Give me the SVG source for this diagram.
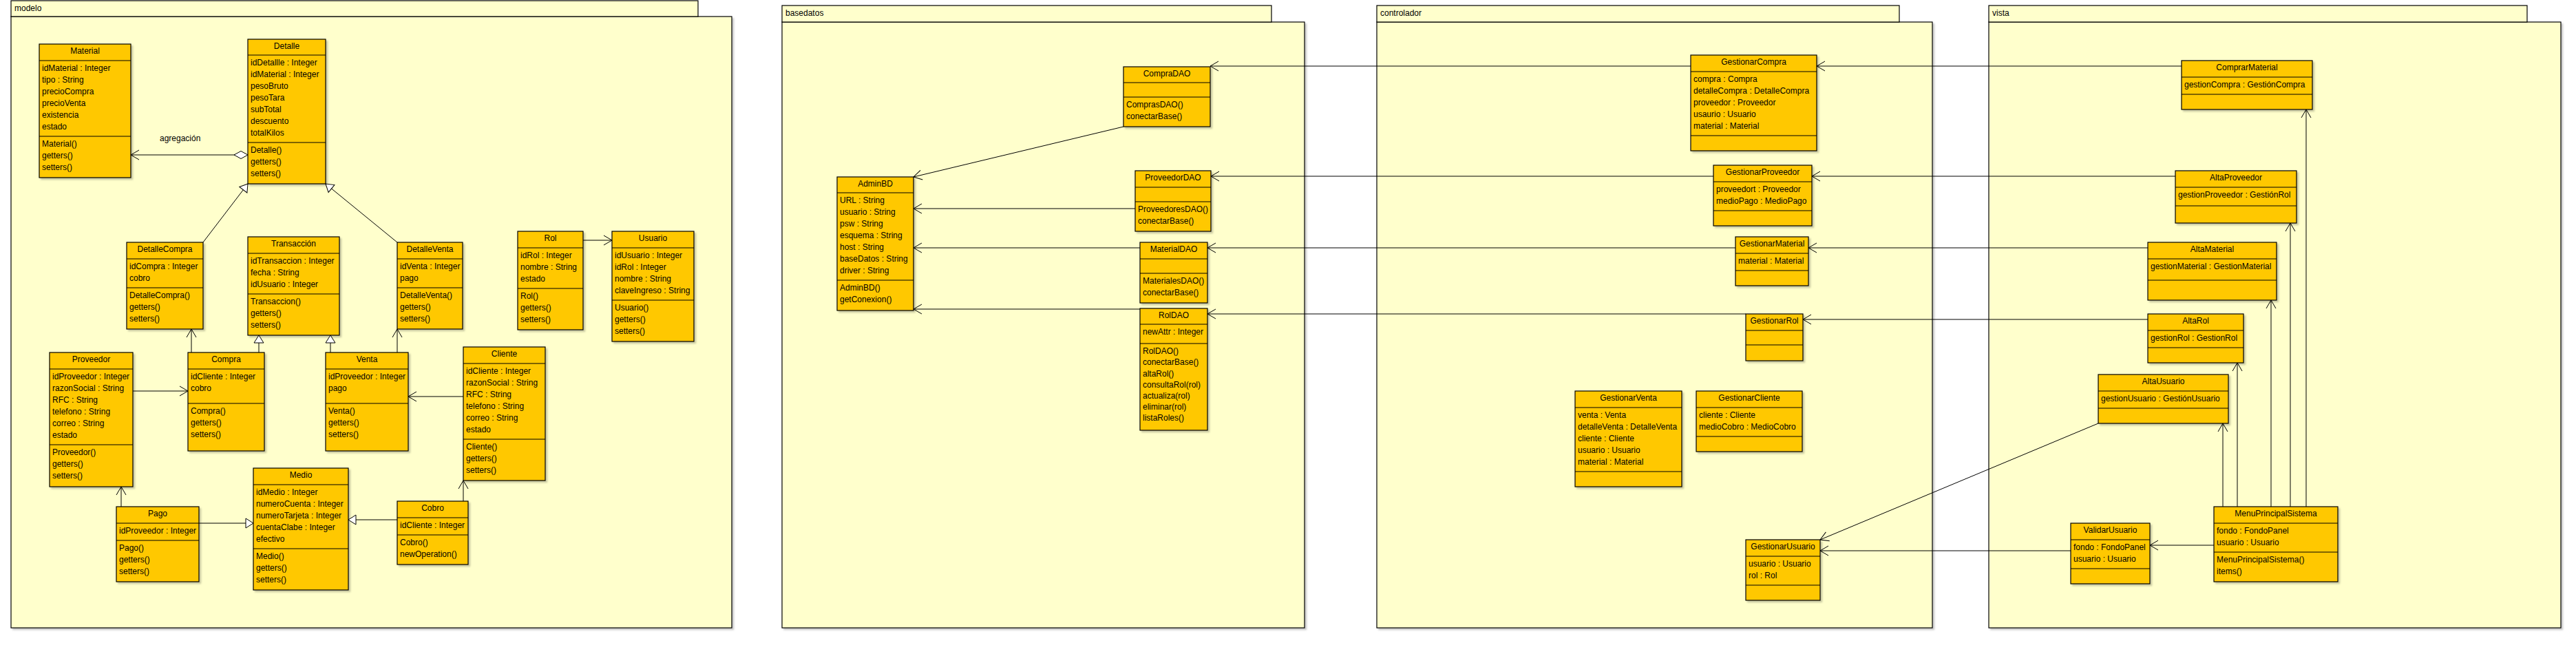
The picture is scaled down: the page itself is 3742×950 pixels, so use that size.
<svg xmlns="http://www.w3.org/2000/svg" width="3742" height="950" viewBox="0 0 3742 950">
<style>
.pkg{fill:#FFFFCC;stroke:#000;stroke-width:1.2}
.cls{fill:#FFC800;stroke:#000;stroke-width:1.2}
.sep{stroke:#000;stroke-width:1.2}
.ds{filter:url(#ds)}
text{font-family:"Liberation Sans",Arial,sans-serif;font-size:12px;fill:#000}
.t{text-anchor:middle}
#connectors line{stroke:#000;stroke-width:1;fill:none}
.op{marker-end:url(#open)}
.gen{marker-end:url(#tri)}
</style>
<defs>
<filter id="ds" x="-5%" y="-5%" width="115%" height="115%"><feDropShadow dx="2.5" dy="2.5" stdDeviation="1" flood-color="#000" flood-opacity="0.22"/></filter>
<marker id="open" viewBox="-14 -9 16 18" refX="0" refY="0" markerWidth="16" markerHeight="18" markerUnits="userSpaceOnUse" orient="auto"><path d="M-12,-7 L0,0 L-12,7" fill="none" stroke="#000" stroke-width="1"/></marker>
<marker id="tri" viewBox="-13 -9 15 18" refX="0" refY="0" markerWidth="15" markerHeight="18" markerUnits="userSpaceOnUse" orient="auto"><path d="M-11,-7 L0,0 L-11,7 Z" fill="#fff" stroke="#000" stroke-width="1"/></marker>
<marker id="dia" viewBox="-1 -7 23 14" refX="0" refY="0" markerWidth="23" markerHeight="14" markerUnits="userSpaceOnUse" orient="auto"><path d="M0,0 L10,-5.5 L20,0 L10,5.5 Z" fill="#fff" stroke="#000" stroke-width="1"/></marker>
</defs>
<rect x="0" y="0" width="3742" height="950" fill="#fff"/>

<g id="pkg-modelo">
<rect class="pkg ds" x="16" y="24" width="1047" height="888"/>
<rect class="pkg" x="16" y="1" width="998" height="23"/>
<text x="21" y="16">modelo</text>
</g>
<g id="pkg-basedatos">
<rect class="pkg ds" x="1136" y="32" width="759" height="880"/>
<rect class="pkg" x="1136" y="8" width="711" height="24"/>
<text x="1141" y="23">basedatos</text>
</g>
<g id="pkg-controlador">
<rect class="pkg ds" x="2000" y="32" width="807" height="880"/>
<rect class="pkg" x="2000" y="8" width="759" height="24"/>
<text x="2005" y="23">controlador</text>
</g>
<g id="pkg-vista">
<rect class="pkg ds" x="2889" y="32" width="831" height="880"/>
<rect class="pkg" x="2889" y="8" width="782" height="24"/>
<text x="2894" y="23">vista</text>
</g>

<!-- modelo -->
<g id="Material">
<rect class="cls ds" x="57" y="64" width="133" height="194"/>
<line class="sep" x1="57" y1="88" x2="190" y2="88"/><line class="sep" x1="57" y1="198" x2="190" y2="198"/>
<text class="t" x="123.5" y="78">Material</text>
<text x="61" y="103">idMaterial : Integer</text><text x="61" y="120">tipo : String</text><text x="61" y="137">precioCompra</text><text x="61" y="154">precioVenta</text><text x="61" y="171">existencia</text><text x="61" y="188">estado</text>
<text x="61" y="213">Material()</text><text x="61" y="230">getters()</text><text x="61" y="247">setters()</text>
</g>
<g id="Detalle">
<rect class="cls ds" x="360" y="57" width="113" height="210"/>
<line class="sep" x1="360" y1="80" x2="473" y2="80"/><line class="sep" x1="360" y1="207" x2="473" y2="207"/>
<text class="t" x="416.5" y="71">Detalle</text>
<text x="364" y="95">idDetallle : Integer</text><text x="364" y="112">idMaterial : Integer</text><text x="364" y="129">pesoBruto</text><text x="364" y="146">pesoTara</text><text x="364" y="163">subTotal</text><text x="364" y="180">descuento</text><text x="364" y="197">totalKilos</text>
<text x="364" y="222">Detalle()</text><text x="364" y="239">getters()</text><text x="364" y="256">setters()</text>
</g>
<g id="DetalleCompra">
<rect class="cls ds" x="184" y="352" width="111" height="126"/>
<line class="sep" x1="184" y1="376" x2="295" y2="376"/><line class="sep" x1="184" y1="418" x2="295" y2="418"/>
<text class="t" x="239.5" y="366">DetalleCompra</text>
<text x="188" y="391">idCompra : Integer</text><text x="188" y="408">cobro</text>
<text x="188" y="433">DetalleCompra()</text><text x="188" y="450">getters()</text><text x="188" y="467">setters()</text>
</g>
<g id="Transaccion">
<rect class="cls ds" x="360" y="344" width="133" height="143"/>
<line class="sep" x1="360" y1="368" x2="493" y2="368"/><line class="sep" x1="360" y1="427" x2="493" y2="427"/>
<text class="t" x="426.5" y="358">Transacción</text>
<text x="364" y="383">idTransaccion : Integer</text><text x="364" y="400">fecha : String</text><text x="364" y="417">idUsuario : Integer</text>
<text x="364" y="442">Transaccion()</text><text x="364" y="459">getters()</text><text x="364" y="476">setters()</text>
</g>
<g id="DetalleVenta">
<rect class="cls ds" x="577" y="352" width="95" height="126"/>
<line class="sep" x1="577" y1="376" x2="672" y2="376"/><line class="sep" x1="577" y1="418" x2="672" y2="418"/>
<text class="t" x="624.5" y="366">DetalleVenta</text>
<text x="581" y="391">idVenta : Integer</text><text x="581" y="408">pago</text>
<text x="581" y="433">DetalleVenta()</text><text x="581" y="450">getters()</text><text x="581" y="467">setters()</text>
</g>
<g id="Rol">
<rect class="cls ds" x="752" y="336" width="95" height="143"/>
<line class="sep" x1="752" y1="360" x2="847" y2="360"/><line class="sep" x1="752" y1="419" x2="847" y2="419"/>
<text class="t" x="799.5" y="350">Rol</text>
<text x="756" y="375">idRol : Integer</text><text x="756" y="392">nombre : String</text><text x="756" y="409">estado</text>
<text x="756" y="434">Rol()</text><text x="756" y="451">getters()</text><text x="756" y="468">setters()</text>
</g>
<g id="Usuario">
<rect class="cls ds" x="889" y="336" width="119" height="160"/>
<line class="sep" x1="889" y1="360" x2="1008" y2="360"/><line class="sep" x1="889" y1="436" x2="1008" y2="436"/>
<text class="t" x="948.5" y="350">Usuario</text>
<text x="893" y="375">idUsuario : Integer</text><text x="893" y="392">idRol : Integer</text><text x="893" y="409">nombre : String</text><text x="893" y="426">claveIngreso : String</text>
<text x="893" y="451">Usuario()</text><text x="893" y="468">getters()</text><text x="893" y="485">setters()</text>
</g>
<g id="Proveedor">
<rect class="cls ds" x="72" y="512" width="121" height="195"/>
<line class="sep" x1="72" y1="536" x2="193" y2="536"/><line class="sep" x1="72" y1="646" x2="193" y2="646"/>
<text class="t" x="132.5" y="526">Proveedor</text>
<text x="76" y="551">idProveedor : Integer</text><text x="76" y="568">razonSocial : String</text><text x="76" y="585">RFC : String</text><text x="76" y="602">telefono : String</text><text x="76" y="619">correo : String</text><text x="76" y="636">estado</text>
<text x="76" y="661">Proveedor()</text><text x="76" y="678">getters()</text><text x="76" y="695">setters()</text>
</g>
<g id="Compra">
<rect class="cls ds" x="273" y="512" width="111" height="143"/>
<line class="sep" x1="273" y1="536" x2="384" y2="536"/><line class="sep" x1="273" y1="586" x2="384" y2="586"/>
<text class="t" x="328.5" y="526">Compra</text>
<text x="277" y="551">idCliente : Integer</text><text x="277" y="568">cobro</text>
<text x="277" y="601">Compra()</text><text x="277" y="618">getters()</text><text x="277" y="635">setters()</text>
</g>
<g id="Venta">
<rect class="cls ds" x="473" y="512" width="120" height="143"/>
<line class="sep" x1="473" y1="536" x2="593" y2="536"/><line class="sep" x1="473" y1="586" x2="593" y2="586"/>
<text class="t" x="533" y="526">Venta</text>
<text x="477" y="551">idProveedor : Integer</text><text x="477" y="568">pago</text>
<text x="477" y="601">Venta()</text><text x="477" y="618">getters()</text><text x="477" y="635">setters()</text>
</g>
<g id="Cliente">
<rect class="cls ds" x="673" y="504" width="119" height="194"/>
<line class="sep" x1="673" y1="528" x2="792" y2="528"/><line class="sep" x1="673" y1="638" x2="792" y2="638"/>
<text class="t" x="732.5" y="518">Cliente</text>
<text x="677" y="543">idCliente : Integer</text><text x="677" y="560">razonSocial : String</text><text x="677" y="577">RFC : String</text><text x="677" y="594">telefono : String</text><text x="677" y="611">correo : String</text><text x="677" y="628">estado</text>
<text x="677" y="653">Cliente()</text><text x="677" y="670">getters()</text><text x="677" y="687">setters()</text>
</g>
<g id="Pago">
<rect class="cls ds" x="169" y="736" width="120" height="109"/>
<line class="sep" x1="169" y1="760" x2="289" y2="760"/><line class="sep" x1="169" y1="785" x2="289" y2="785"/>
<text class="t" x="229" y="750">Pago</text>
<text x="173" y="775">idProveedor : Integer</text>
<text x="173" y="800">Pago()</text><text x="173" y="817">getters()</text><text x="173" y="834">setters()</text>
</g>
<g id="Medio">
<rect class="cls ds" x="368" y="680" width="138" height="177"/>
<line class="sep" x1="368" y1="704" x2="506" y2="704"/><line class="sep" x1="368" y1="797" x2="506" y2="797"/>
<text class="t" x="437" y="694">Medio</text>
<text x="372" y="719">idMedio : Integer</text><text x="372" y="736">numeroCuenta : Integer</text><text x="372" y="753">numeroTarjeta : Integer</text><text x="372" y="770">cuentaClabe : Integer</text><text x="372" y="787">efectivo</text>
<text x="372" y="812">Medio()</text><text x="372" y="829">getters()</text><text x="372" y="846">setters()</text>
</g>
<g id="Cobro">
<rect class="cls ds" x="577" y="728" width="103" height="92"/>
<line class="sep" x1="577" y1="752" x2="680" y2="752"/><line class="sep" x1="577" y1="777" x2="680" y2="777"/>
<text class="t" x="628.5" y="742">Cobro</text>
<text x="581" y="767">idCliente : Integer</text>
<text x="581" y="792">Cobro()</text><text x="581" y="809">newOperation()</text>
</g>

<!-- basedatos -->
<g id="AdminBD">
<rect class="cls ds" x="1216" y="257" width="111" height="194"/>
<line class="sep" x1="1216" y1="280" x2="1327" y2="280"/><line class="sep" x1="1216" y1="407" x2="1327" y2="407"/>
<text class="t" x="1271.5" y="271">AdminBD</text>
<text x="1220" y="295">URL : String</text><text x="1220" y="312">usuario : String</text><text x="1220" y="329">psw : String</text><text x="1220" y="346">esquema : String</text><text x="1220" y="363">host : String</text><text x="1220" y="380">baseDatos : String</text><text x="1220" y="397">driver : String</text>
<text x="1220" y="422">AdminBD()</text><text x="1220" y="439">getConexion()</text>
</g>
<g id="CompraDAO">
<rect class="cls ds" x="1632" y="97" width="126" height="87"/>
<line class="sep" x1="1632" y1="120" x2="1758" y2="120"/><line class="sep" x1="1632" y1="141" x2="1758" y2="141"/>
<text class="t" x="1695" y="111">CompraDAO</text>
<text x="1636" y="156">ComprasDAO()</text><text x="1636" y="173">conectarBase()</text>
</g>
<g id="ProveedorDAO">
<rect class="cls ds" x="1649" y="248" width="110" height="88"/>
<line class="sep" x1="1649" y1="272" x2="1759" y2="272"/><line class="sep" x1="1649" y1="293" x2="1759" y2="293"/>
<text class="t" x="1704" y="262">ProveedorDAO</text>
<text x="1653" y="308">ProveedoresDAO()</text><text x="1653" y="325">conectarBase()</text>
</g>
<g id="MaterialDAO">
<rect class="cls ds" x="1656" y="352" width="98" height="88"/>
<line class="sep" x1="1656" y1="376" x2="1754" y2="376"/><line class="sep" x1="1656" y1="397" x2="1754" y2="397"/>
<text class="t" x="1705" y="366">MaterialDAO</text>
<text x="1660" y="412">MaterialesDAO()</text><text x="1660" y="429">conectarBase()</text>
</g>
<g id="RolDAO">
<rect class="cls ds" x="1656" y="448" width="98" height="177"/>
<line class="sep" x1="1656" y1="471" x2="1754" y2="471"/><line class="sep" x1="1656" y1="499" x2="1754" y2="499"/>
<text class="t" x="1705" y="462">RolDAO</text>
<text x="1660" y="486">newAttr : Integer</text>
<text x="1660" y="514">RolDAO()</text><text x="1660" y="530">conectarBase()</text><text x="1660" y="547">altaRol()</text><text x="1660" y="563">consultaRol(rol)</text><text x="1660" y="579">actualiza(rol)</text><text x="1660" y="595">eliminar(rol)</text><text x="1660" y="611">listaRoles()</text>
</g>

<!-- controlador -->
<g id="GestionarCompra">
<rect class="cls ds" x="2456" y="80" width="183" height="139"/>
<line class="sep" x1="2456" y1="104" x2="2639" y2="104"/><line class="sep" x1="2456" y1="197" x2="2639" y2="197"/>
<text class="t" x="2547.5" y="94">GestionarCompra</text>
<text x="2460" y="119">compra : Compra</text><text x="2460" y="136">detalleCompra : DetalleCompra</text><text x="2460" y="153">proveedor : Proveedor</text><text x="2460" y="170">usaurio : Usuario</text><text x="2460" y="187">material : Material</text>
</g>
<g id="GestionarProveedor">
<rect class="cls ds" x="2489" y="240" width="143" height="88"/>
<line class="sep" x1="2489" y1="264" x2="2632" y2="264"/><line class="sep" x1="2489" y1="306" x2="2632" y2="306"/>
<text class="t" x="2560.5" y="254">GestionarProveedor</text>
<text x="2493" y="279">proveedort : Proveedor</text><text x="2493" y="296">medioPago : MedioPago</text>
</g>
<g id="GestionarMaterial">
<rect class="cls ds" x="2521" y="344" width="106" height="71"/>
<line class="sep" x1="2521" y1="368" x2="2627" y2="368"/><line class="sep" x1="2521" y1="393" x2="2627" y2="393"/>
<text class="t" x="2574" y="358">GestionarMaterial</text>
<text x="2525" y="383">material : Material</text>
</g>
<g id="GestionarRol">
<rect class="cls ds" x="2536" y="456" width="83" height="68"/>
<line class="sep" x1="2536" y1="480" x2="2619" y2="480"/><line class="sep" x1="2536" y1="501" x2="2619" y2="501"/>
<text class="t" x="2577.5" y="470">GestionarRol</text>
</g>
<g id="GestionarVenta">
<rect class="cls ds" x="2288" y="568" width="155" height="139"/>
<line class="sep" x1="2288" y1="592" x2="2443" y2="592"/><line class="sep" x1="2288" y1="685" x2="2443" y2="685"/>
<text class="t" x="2365.5" y="582">GestionarVenta</text>
<text x="2292" y="607">venta : Venta</text><text x="2292" y="624">detalleVenta : DetalleVenta</text><text x="2292" y="641">cliente : Cliente</text><text x="2292" y="658">usuario : Usuario</text><text x="2292" y="675">material : Material</text>
</g>
<g id="GestionarCliente">
<rect class="cls ds" x="2464" y="568" width="154" height="88"/>
<line class="sep" x1="2464" y1="592" x2="2618" y2="592"/><line class="sep" x1="2464" y1="634" x2="2618" y2="634"/>
<text class="t" x="2541" y="582">GestionarCliente</text>
<text x="2468" y="607">cliente : Cliente</text><text x="2468" y="624">medioCobro : MedioCobro</text>
</g>
<g id="GestionarUsuario">
<rect class="cls ds" x="2536" y="784" width="108" height="88"/>
<line class="sep" x1="2536" y1="808" x2="2644" y2="808"/><line class="sep" x1="2536" y1="850" x2="2644" y2="850"/>
<text class="t" x="2590" y="798">GestionarUsuario</text>
<text x="2540" y="823">usuario : Usuario</text><text x="2540" y="840">rol : Rol</text>
</g>

<!-- vista -->
<g id="ComprarMaterial">
<rect class="cls ds" x="3169" y="88" width="190" height="71"/>
<line class="sep" x1="3169" y1="112" x2="3359" y2="112"/><line class="sep" x1="3169" y1="137" x2="3359" y2="137"/>
<text class="t" x="3264" y="102">ComprarMaterial</text>
<text x="3173" y="127">gestionCompra : GestiónCompra</text>
</g>
<g id="AltaProveedor">
<rect class="cls ds" x="3160" y="248" width="176" height="76"/>
<line class="sep" x1="3160" y1="272" x2="3336" y2="272"/><line class="sep" x1="3160" y1="299" x2="3336" y2="299"/>
<text class="t" x="3248" y="262">AltaProveedor</text>
<text x="3164" y="287">gestionProveedor : GestiónRol</text>
</g>
<g id="AltaMaterial">
<rect class="cls ds" x="3120" y="352" width="187" height="84"/>
<line class="sep" x1="3120" y1="376" x2="3307" y2="376"/><line class="sep" x1="3120" y1="407" x2="3307" y2="407"/>
<text class="t" x="3213.5" y="366">AltaMaterial</text>
<text x="3124" y="391">gestionMaterial : GestionMaterial</text>
</g>
<g id="AltaRol">
<rect class="cls ds" x="3120" y="456" width="139" height="71"/>
<line class="sep" x1="3120" y1="480" x2="3259" y2="480"/><line class="sep" x1="3120" y1="505" x2="3259" y2="505"/>
<text class="t" x="3189.5" y="470">AltaRol</text>
<text x="3124" y="495">gestionRol : GestionRol</text>
</g>
<g id="AltaUsuario">
<rect class="cls ds" x="3048" y="544" width="189" height="71"/>
<line class="sep" x1="3048" y1="568" x2="3237" y2="568"/><line class="sep" x1="3048" y1="593" x2="3237" y2="593"/>
<text class="t" x="3142.5" y="558">AltaUsuario</text>
<text x="3052" y="583">gestionUsuario : GestiónUsuario</text>
</g>
<g id="MenuPrincipalSistema">
<rect class="cls ds" x="3216" y="736" width="180" height="109"/>
<line class="sep" x1="3216" y1="760" x2="3396" y2="760"/><line class="sep" x1="3216" y1="802" x2="3396" y2="802"/>
<text class="t" x="3306" y="750">MenuPrincipalSistema</text>
<text x="3220" y="775">fondo : FondoPanel</text><text x="3220" y="792">usuario : Usuario</text>
<text x="3220" y="817">MenuPrincipalSistema()</text><text x="3220" y="834">items()</text>
</g>
<g id="ValidarUsuario">
<rect class="cls ds" x="3008" y="760" width="115" height="88"/>
<line class="sep" x1="3008" y1="784" x2="3123" y2="784"/><line class="sep" x1="3008" y1="826" x2="3123" y2="826"/>
<text class="t" x="3065.5" y="774">ValidarUsuario</text>
<text x="3012" y="799">fondo : FondoPanel</text><text x="3012" y="816">usuario : Usuario</text>
</g>

<g id="connectors">
<line x1="360" y1="225" x2="190" y2="225" marker-start="url(#dia)" marker-end="url(#open)"/>
<text x="232" y="205">agregación</text>
<line class="gen" x1="295" y1="352" x2="360" y2="267"/>
<line class="gen" x1="577" y1="352" x2="473" y2="267"/>
<line class="gen" x1="376" y1="512" x2="376" y2="487"/>
<line class="gen" x1="480" y1="512" x2="480" y2="487"/>
<line class="gen" x1="289" y1="760" x2="368" y2="760"/>
<line class="gen" x1="577" y1="755" x2="506" y2="755"/>
<line class="op" x1="278" y1="512" x2="278" y2="478"/>
<line class="op" x1="577" y1="512" x2="577" y2="478"/>
<line class="op" x1="193" y1="568" x2="273" y2="568"/>
<line class="op" x1="176" y1="736" x2="176" y2="707"/>
<line class="op" x1="673" y1="576" x2="593" y2="576"/>
<line class="op" x1="673" y1="728" x2="673" y2="698"/>
<line class="op" x1="847" y1="349" x2="889" y2="349"/>
<line class="op" x1="1632" y1="184" x2="1327" y2="257"/>
<line class="op" x1="1649" y1="303" x2="1327" y2="303"/>
<line class="op" x1="1656" y1="360" x2="1327" y2="360"/>
<line class="op" x1="1656" y1="449" x2="1327" y2="449"/>
<line class="op" x1="2456" y1="96" x2="1758" y2="96"/>
<line class="op" x1="2489" y1="256" x2="1759" y2="256"/>
<line class="op" x1="2521" y1="360" x2="1754" y2="360"/>
<line class="op" x1="2536" y1="456" x2="1754" y2="456"/>
<line class="op" x1="3169" y1="96" x2="2639" y2="96"/>
<line class="op" x1="3160" y1="256" x2="2632" y2="256"/>
<line class="op" x1="3120" y1="360" x2="2627" y2="360"/>
<line class="op" x1="3120" y1="464" x2="2619" y2="464"/>
<line class="op" x1="3048" y1="615" x2="2644" y2="784"/>
<line class="op" x1="3008" y1="800" x2="2644" y2="800"/>
<line class="op" x1="3350" y1="736" x2="3350" y2="159"/>
<line class="op" x1="3327" y1="736" x2="3327" y2="324"/>
<line class="op" x1="3299" y1="736" x2="3299" y2="436"/>
<line class="op" x1="3250" y1="736" x2="3250" y2="527"/>
<line class="op" x1="3229" y1="736" x2="3229" y2="615"/>
<line class="op" x1="3216" y1="792" x2="3123" y2="792"/>
</g>
</svg>
